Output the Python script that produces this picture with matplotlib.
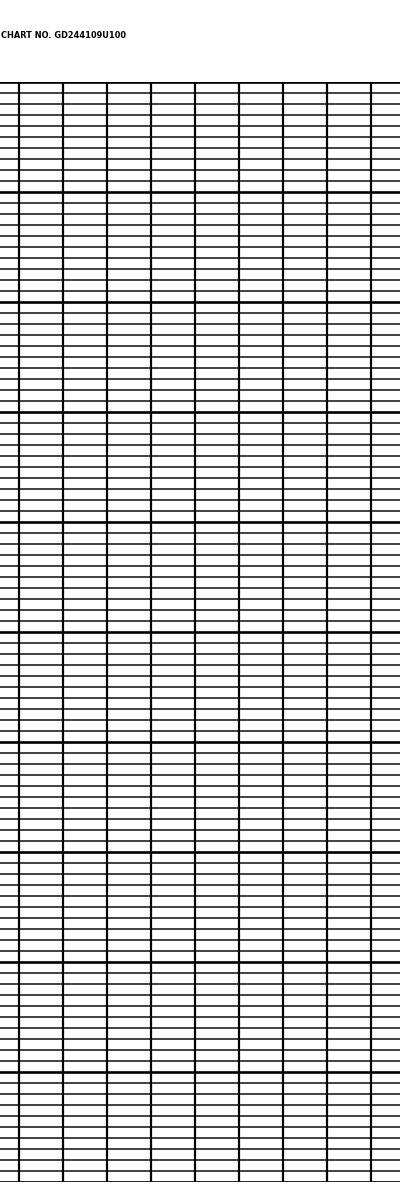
import numpy as np
import matplotlib
matplotlib.use("Agg")
import matplotlib.pyplot as plt

# ----- Chart paper layout -----
chart_no = "CHART NO. GD244109U100"
n_vertical = 9          # vertical rulings (0..8)
n_minor = 100           # minor horizontal divisions
major_every = 10        # every 10th horizontal line is heavy

W, H = 400, 1200        # pixels
fig = plt.figure(figsize=(W / 100, H / 100), dpi=100)
fig.patch.set_facecolor("white")

# grid occupies y = 82..1182 px, full width
top_px, bot_px = 82, 1182
ax = fig.add_axes([0, 1 - bot_px / H, 1, (bot_px - top_px) / H])
ax.set_xlim(-19 / 44, (400 - 19) / 44)
ax.set_ylim(n_minor, 0)
ax.axis("off")

# horizontal rulings
for i in range(n_minor + 1):
    if i % major_every == 0:
        ax.axhline(i, color="black", lw=1.9, zorder=2)
    else:
        ax.axhline(i, color="#333333", lw=1.3, zorder=1)

# vertical rulings
for k in range(n_vertical):
    ax.axvline(k, color="black", lw=1.6, zorder=3)

fig.text(1 / W, 1 - 36 / H, chart_no, family="DejaVu Sans", fontstretch="condensed",
         fontweight="bold", fontsize=6.6, va="center", ha="left")

fig.savefig("out.png", dpi=100, facecolor="white")
